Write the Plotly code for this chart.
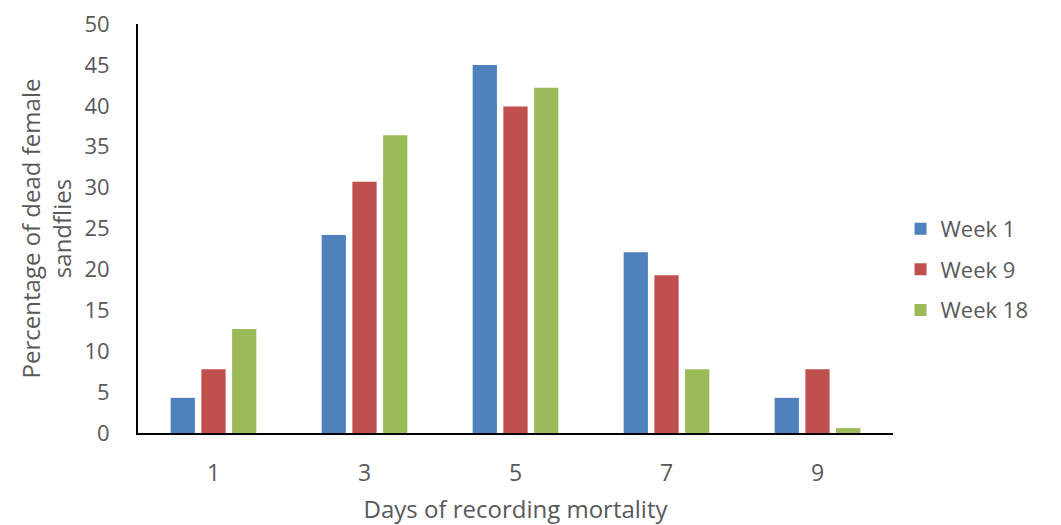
import plotly.graph_objects as go

days = ["1", "3", "5", "7", "9"]
week1 = [4.3, 24.2, 45.0, 22.1, 4.3]
week9 = [7.8, 30.7, 39.9, 19.3, 7.8]
week18 = [12.7, 36.4, 42.2, 7.8, 0.6]
series_names = ["Week 1", "Week 9", "Week 18"]
colors = ["#4F81BD", "#C0504D", "#9BBB59"]
y_ticks = list(range(0, 51, 5))

font_family = "Open Sans, Lato, DejaVu Sans, sans-serif"
text_color = "#595959"

fig = go.Figure()
for name, vals, c in zip(series_names, [week1, week9, week18], colors):
    fig.add_trace(go.Bar(x=days, y=vals, name=name, legendgroup=name,
                         marker=dict(color=c, line=dict(width=0))))

fig.update_layout(
    width=1061, height=525,
    margin=dict(l=138, r=168, t=24, b=92, autoexpand=False),
    paper_bgcolor="white", plot_bgcolor="white",
    barmode="group", bargap=0.39, bargroupgap=0.21,
    font=dict(family=font_family, color=text_color, size=22),
    legend=dict(x=1.01, y=0.40, xanchor="left", yanchor="middle",
                font=dict(size=22, color=text_color),
                tracegroupgap=9, traceorder="grouped"),
    showlegend=True,
)
fig.update_xaxes(type="category", showline=True, linecolor="black", linewidth=2,
                 showgrid=False, ticks="", ticklabelstandoff=18, automargin=False,
                 tickfont=dict(size=23, color=text_color),
                 title=dict(text="Days of recording mortality", font=dict(size=24, color=text_color), standoff=20))
fig.update_yaxes(range=[0, 50], tickvals=y_ticks, showline=True, linecolor="black", linewidth=2,
                 showgrid=False, zeroline=False, ticks="", ticklabelstandoff=22, automargin=False,
                 tickfont=dict(size=22, color=text_color),
                 title=dict(text="Percentage of dead female<br>sandflies", font=dict(size=24, color=text_color), standoff=6))

fig.write_html("out.html")
